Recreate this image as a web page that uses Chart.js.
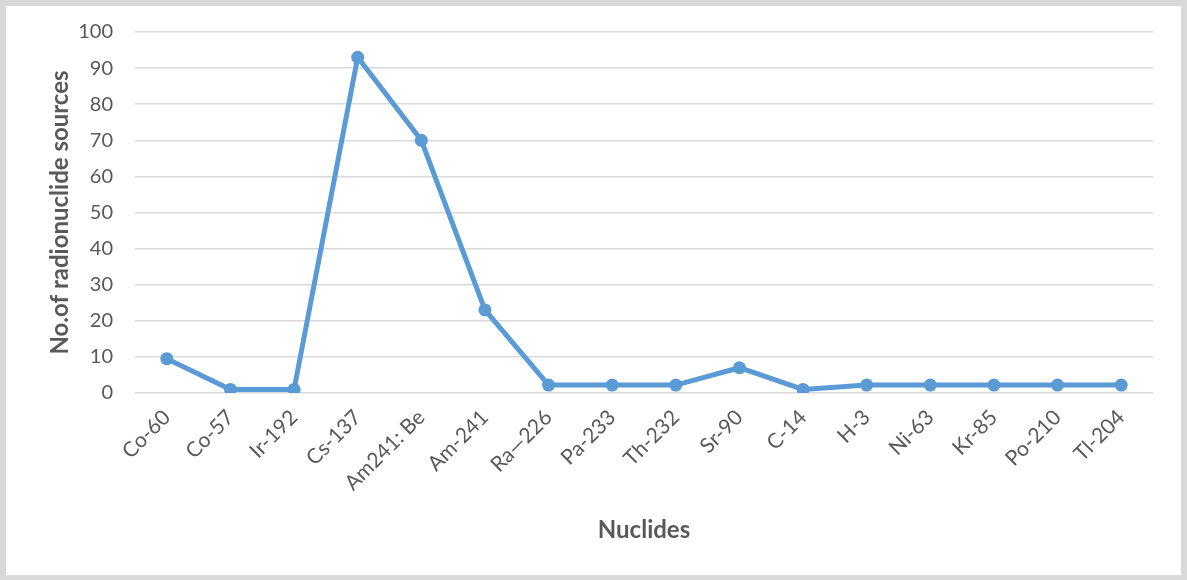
<!DOCTYPE html>
<html>
<head>
<meta charset="utf-8">
<script src="https://cdn.jsdelivr.net/npm/chart.js@4.4.0/dist/chart.umd.min.js"></script>
<style>
  html, body { margin: 0; padding: 0; background: #ffffff; }
  #frame { position: absolute; left: 0; top: 0; width: 1187px; height: 580px; box-sizing: border-box;
           border-style: solid; border-color: #d9d9d9; border-width: 6px 6px 5px 6px; background: #fff; }
  canvas { display: block; }
</style>
</head>
<body>
<div id="frame"><canvas id="c" width="1175" height="569"></canvas></div>
<script>
const categories = ["Co-60", "Co-57", "Ir-192", "Cs-137", "Am241: Be", "Am-241", "Ra\u2014226", "Pa-233",
                    "Th-232", "Sr-90", "C-14", "H-3", "Ni-63", "Kr-85", "Po-210", "Tl-204"];
const sourceCounts = [9.5, 1, 1, 93, 70, 23, 2.2, 2.2, 2.2, 7, 1, 2.2, 2.2, 2.2, 2.2, 2.2];
const yTicks = [0, 10, 20, 30, 40, 50, 60, 70, 80, 90, 100];
const xTitle = "Nuclides";
const yTitle = "No.of radionuclide sources";

const FONT = "Lato, 'Open Sans', sans-serif";
const GREY = "#595959";
const BLUE = "#5b9bd5";

new Chart(document.getElementById("c"), {
  type: "line",
  data: {
    labels: categories,
    datasets: [{
      data: sourceCounts,
      borderColor: BLUE,
      backgroundColor: BLUE,
      borderWidth: 5,
      pointRadius: 6.5,
      pointHoverRadius: 6.5,
      pointBackgroundColor: BLUE,
      pointBorderColor: BLUE,
      pointBorderWidth: 0,
      tension: 0,
      fill: false
    }]
  },
  options: {
    responsive: false,
    animation: false,
    devicePixelRatio: 1,
    layout: { padding: { top: 26, right: 28, left: 0, bottom: 0 } },
    plugins: { legend: { display: false }, tooltip: { enabled: false } },
    scales: {
      x: {
        offset: true,
        grid: { display: false },
        border: { display: false },
        ticks: { color: GREY, font: { family: FONT, size: 21 }, minRotation: 45, maxRotation: 45,
                 autoSkip: false, padding: 4 },
        title: { display: true, text: xTitle, color: GREY, font: { family: FONT, size: 24, weight: "bold" },
                 padding: 30 },
        afterFit: (s) => { s.height = 182; s.paddingLeft = 0; s.paddingRight = 0; }
      },
      y: {
        min: 0, max: 100,
        afterBuildTicks: (s) => { s.ticks = yTicks.map(v => ({ value: v })); },
        grid: { color: "#d9d9d9", lineWidth: 1.5, drawTicks: false },
        border: { display: false },
        ticks: { color: GREY, font: { family: FONT, size: 20 }, padding: 22 },
        title: { display: true, text: yTitle, color: GREY, font: { family: FONT, size: 24, weight: "bold" },
                 padding: 40 },
        afterFit: (s) => { s.width = 129; s.paddingTop = 0; s.paddingBottom = 0; }
      }
    }
  }
});
</script>
</body>
</html>
